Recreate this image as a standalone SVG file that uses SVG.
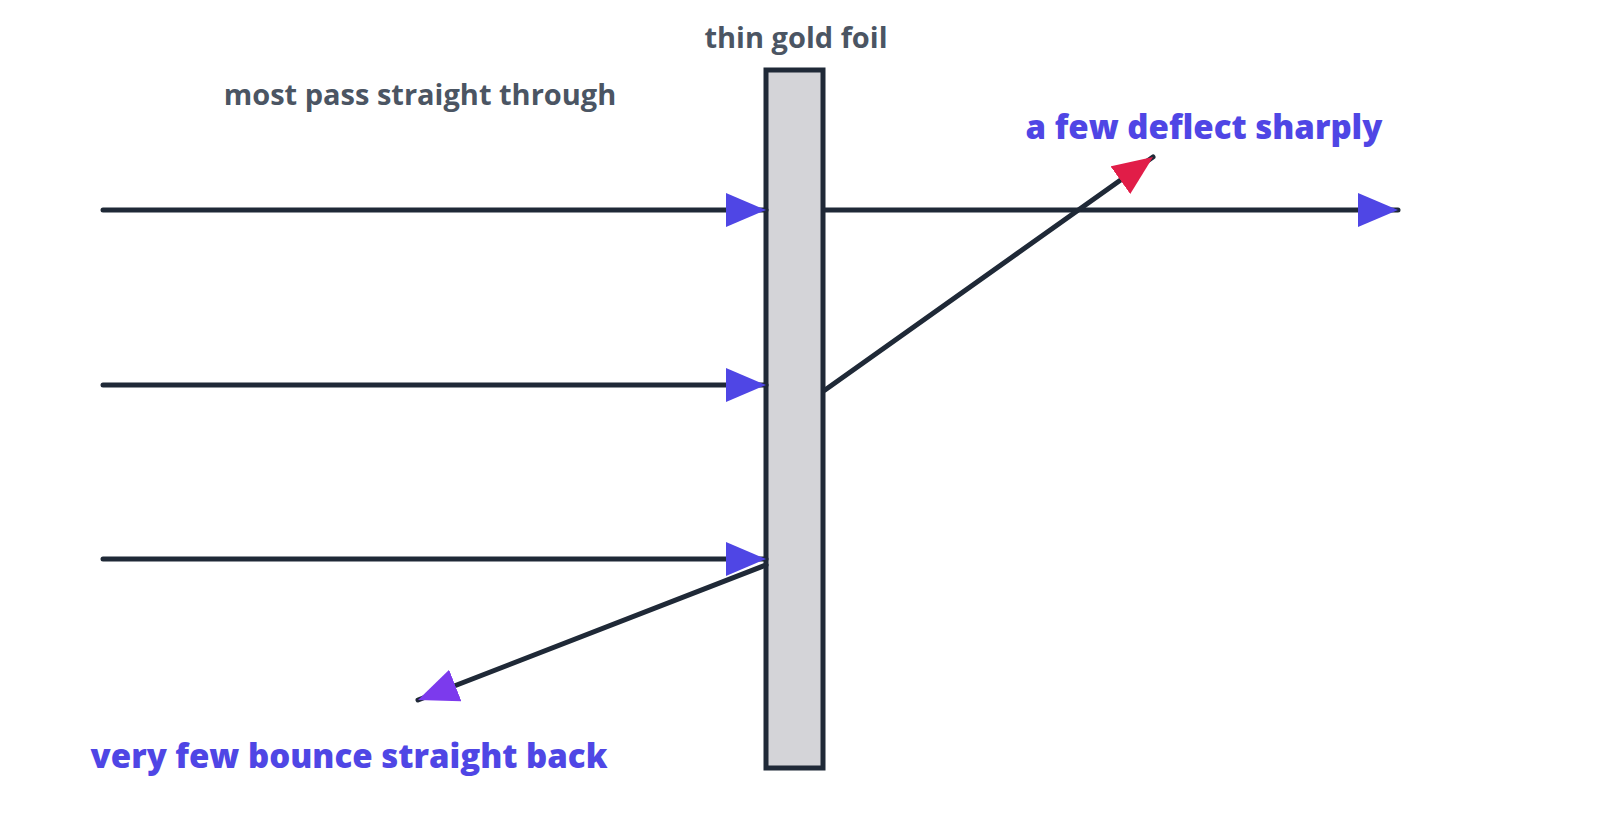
<svg xmlns="http://www.w3.org/2000/svg" width="1600" height="835" viewBox="0 0 1600 835">
<style>
.ln{stroke:#1f2937;stroke-width:5;stroke-linecap:round;fill:none}
.lbl{font-family:"Open Sans","Liberation Sans",sans-serif;font-weight:700;fill:#4b5563;font-size:29px}
.big{font-family:"Open Sans","Liberation Sans",sans-serif;font-weight:800;fill:#4f46e5;font-size:33px}
</style>
<defs>
<marker id="ab" markerUnits="userSpaceOnUse" markerWidth="42" markerHeight="36" refX="40" refY="17" orient="auto"><path d="M0,0 L40,17 L0,34 Z" fill="#4f46e5"/></marker>
<marker id="ar" markerUnits="userSpaceOnUse" markerWidth="42" markerHeight="36" refX="40" refY="17" orient="auto"><path d="M0,0 L40,17 L0,34 Z" fill="#e11d48"/></marker>
<marker id="ap" markerUnits="userSpaceOnUse" markerWidth="42" markerHeight="36" refX="40" refY="17" orient="auto"><path d="M0,0 L40,17 L0,34 Z" fill="#7c3aed"/></marker>
</defs>
<g id="foil"><rect x="766" y="70" width="57" height="698" fill="#d4d4d8" stroke="#1f2937" stroke-width="5"/></g>
<g id="connectors">
<line class="ln" x1="103" y1="210" x2="766" y2="210" marker-end="url(#ab)"/>
<line class="ln" x1="103" y1="385" x2="766" y2="385" marker-end="url(#ab)"/>
<line class="ln" x1="103" y1="559" x2="766" y2="559" marker-end="url(#ab)"/>
<line class="ln" x1="825" y1="210" x2="1398" y2="210" marker-end="url(#ab)"/>
<line class="ln" x1="825" y1="390" x2="1153" y2="157" marker-end="url(#ar)"/>
<line class="ln" x1="766" y1="565" x2="418" y2="700" marker-end="url(#ap)"/>
</g>
<g id="labels">
<text class="lbl" x="796" y="48" text-anchor="middle">thin gold foil</text>
<text class="lbl" x="420" y="105" text-anchor="middle">most pass straight through</text>
<text class="big" x="1204" y="139" text-anchor="middle">a few deflect sharply</text>
<text class="big" x="349" y="768" text-anchor="middle">very few bounce straight back</text>
</g>
</svg>
